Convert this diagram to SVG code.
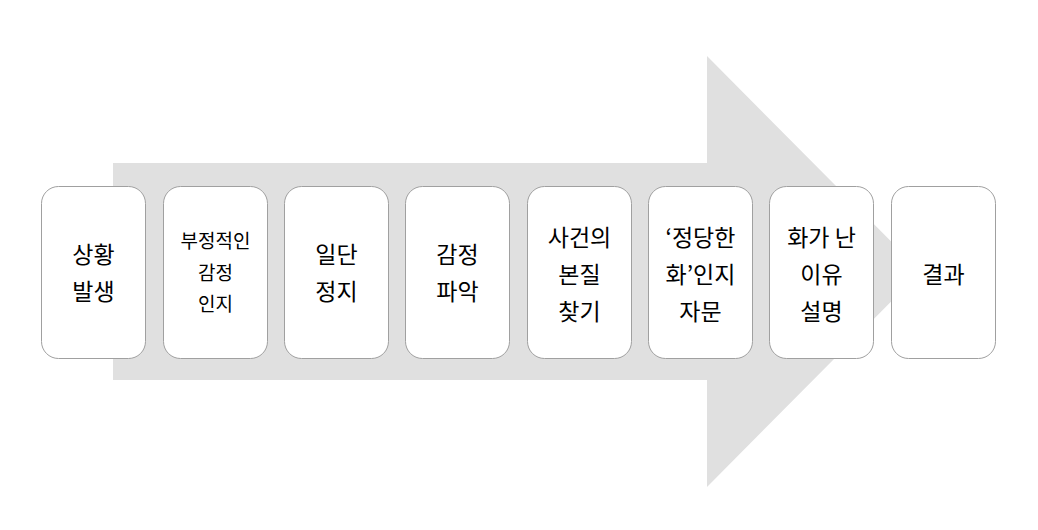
<svg xmlns="http://www.w3.org/2000/svg" width="1038" height="530" viewBox="0 0 1038 530">
<style>
.box{fill:#fff;stroke:#a0a0a0;stroke-width:1}
.t{font-family:"Noto Sans CJK KR","Malgun Gothic",sans-serif;font-size:23px;fill:#000;text-anchor:middle}
.s{font-size:19px}
</style>
<rect width="1038" height="530" fill="#fff"/>
<g id="arrow">
<polygon points="113,163 707,163 707,56 921,271.5 707,487 707,380 113,380" fill="#e0e0e0"/>
</g>
<g id="connectors"></g>
<g id="n1"><rect class="box" x="41.5" y="186.5" width="104" height="172" rx="17"/>
<text class="t" x="93.5" y="263">상황</text><text class="t" x="93.5" y="300">발생</text></g>
<g id="n2"><rect class="box" x="163.5" y="186.5" width="104" height="172" rx="17"/>
<text class="t s" x="215.5" y="248">부정적인</text><text class="t s" x="215.5" y="280">감정</text><text class="t s" x="215.5" y="311">인지</text></g>
<g id="n3"><rect class="box" x="284.5" y="186.5" width="104" height="172" rx="17"/>
<text class="t" x="336.5" y="263">일단</text><text class="t" x="336.5" y="300">정지</text></g>
<g id="n4"><rect class="box" x="405.5" y="186.5" width="104" height="172" rx="17"/>
<text class="t" x="457.5" y="263">감정</text><text class="t" x="457.5" y="300">파악</text></g>
<g id="n5"><rect class="box" x="527.5" y="186.5" width="104" height="172" rx="17"/>
<text class="t" x="579.5" y="246">사건의</text><text class="t" x="579.5" y="283">본질</text><text class="t" x="579.5" y="320">찾기</text></g>
<g id="n6"><rect class="box" x="648.5" y="186.5" width="104" height="172" rx="17"/>
<text class="t" x="700.5" y="246">‘정당한</text><text class="t" x="700.5" y="283">화’인지</text><text class="t" x="700.5" y="320">자문</text></g>
<g id="n7"><rect class="box" x="769.5" y="186.5" width="104" height="172" rx="17"/>
<text class="t" x="821.5" y="246">화가 난</text><text class="t" x="821.5" y="283">이유</text><text class="t" x="821.5" y="320">설명</text></g>
<g id="n8"><rect class="box" x="891.5" y="186.5" width="104" height="172" rx="17"/>
<text class="t" x="943.5" y="283">결과</text></g>
</svg>
